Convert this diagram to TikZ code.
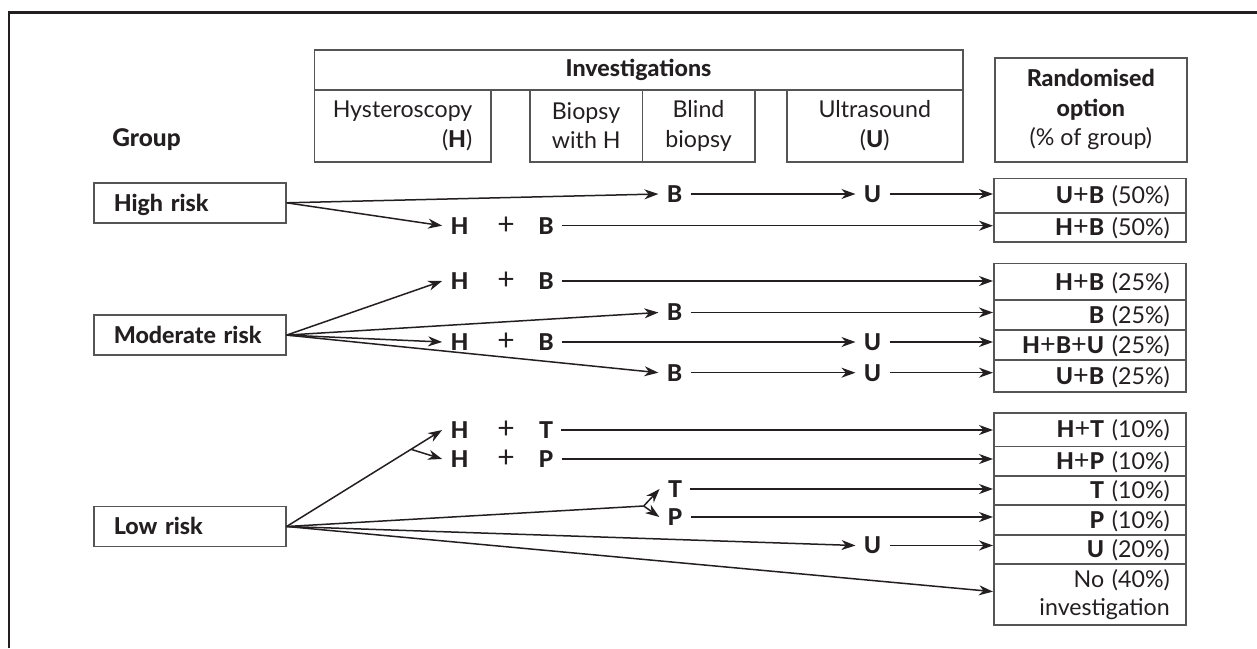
\documentclass[tikz,border=0pt]{standalone}
\usepackage{fontspec}
\setmainfont{Lato}[BoldFont={Lato Heavy}]
\usetikzlibrary{arrows.meta,calc}
\newcommand\myfs{\fontsize{11.6}{14.8}\selectfont}
\newcommand\pl{{\fontsize{13.5}{14}\selectfont\mdseries +}}
\definecolor{boxgray}{RGB}{85,85,85}
\definecolor{linecol}{RGB}{35,31,32}
\begin{document}
\begin{tikzpicture}[x=0.5pt,y=-0.5pt,
  box/.style={draw=boxgray,line width=0.8pt,inner sep=0pt,text=linecol,font=\myfs},
  hdr/.style={box,anchor=north west},
  grp/.style={box,anchor=north west,minimum height=20pt,text width=76pt,inner xsep=10pt,align=left,font=\myfs\bfseries,text height=8.3pt,text depth=0pt},
  cell/.style={box,anchor=north west,text width=80pt,inner xsep=8pt,inner ysep=0pt,align=right,text height=8.3pt,text depth=0pt},
  ltr/.style={font=\myfs\bfseries,text=linecol,inner xsep=4pt,inner ysep=0pt,text height=8.3pt,text depth=0pt},
  pls/.style={font=\fontsize{15}{15}\selectfont,text=linecol,inner sep=0pt,text height=8.3pt,text depth=0pt},
  arr/.style={-{Stealth[length=7pt,width=5pt,inset=2.2pt]},line width=0.75pt,draw=linecol},
  ln/.style={line width=0.75pt,draw=linecol}]
\useasboundingbox (0,0) rectangle (1257,648);
% outer frame
\draw[line width=1.2pt,linecol] (9,648) -- (9,12.3) -- (1257,12.3);

% header
\node[hdr,minimum width=324.25pt,minimum height=19.85pt,font=\myfs\bfseries] (inv) at (313.5,49.3) {Investigations};
\node[hdr,minimum width=88.25pt,minimum height=36pt,align=right] (colH) at (313.5,89) {Hysteroscopy\\(\textbf{H})};
\node[hdr,minimum width=56.05pt,minimum height=36pt,align=left] (colBH) at (529.4,89) {Biopsy\\with H};
\node[hdr,minimum width=56.25pt,minimum height=36pt,align=center] (colBB) at (641.5,89) {Blind\\biopsy};
\node[hdr,minimum width=88pt,minimum height=36pt,align=center] (colU) at (786,89) {Ultrasound\\(\textbf{U})};
\node[hdr,minimum width=96pt,minimum height=52pt,align=center] (rand) at (994,57) {\textbf{Randomised}\\\textbf{option}\\(\% of group)};
\node[anchor=base west,inner sep=0pt,font=\fontsize{12.2}{14.8}\selectfont\bfseries,text=linecol] (grouplbl) at (112,146.7) {Group};

% group boxes
\node[grp] (hr) at (93,182) {High risk};
\node[grp] (mr) at (93,314.3) {Moderate risk};
\node[grp] (lr) at (93,505.7) {Low risk};

% right cells
\node[cell,minimum height=17.15pt] (c11) at (993,177.7) {\textbf{U}\pl\textbf{B} (50\%)};
\node[cell,minimum height=14.5pt] (c12) at (993,212) {\textbf{H}\pl\textbf{B} (50\%)};

\node[cell,minimum height=18.3pt] (ca) at (993,262.7) {\textbf{H}\pl\textbf{B} (25\%)};
\node[cell,minimum height=14.85pt] (cb) at (993,299.3) {\textbf{B} (25\%)};
\node[cell,minimum height=15.15pt] (cc) at (993,329) {\textbf{H}\pl\textbf{B}\pl\textbf{U} (25\%)};
\node[cell,minimum height=15.85pt] (cd) at (993,359.3) {\textbf{U}\pl\textbf{B} (25\%)};

\node[cell,minimum height=16.85pt] (ce) at (993,412) {\textbf{H}\pl\textbf{T} (10\%)};
\node[cell,minimum height=14.8pt] (cf) at (993,445.7) {\textbf{H}\pl\textbf{P} (10\%)};
\node[cell,minimum height=14.5pt] (cg) at (993,475.3) {\textbf{T} (10\%)};
\node[cell,minimum height=14.85pt] (ch) at (993,504.3) {\textbf{P} (10\%)};
\node[cell,minimum height=14.65pt] (ci) at (993,534) {\textbf{U} (20\%)};
\node[box,anchor=north west,text width=80pt,inner xsep=8pt,inner ysep=0pt,align=right,minimum height=30.5pt,font=\fontsize{11.6}{13.7}\selectfont] (cj) at (993,563.3) {No (40\%)\\investigation};

% letters: high risk
\node[ltr] (r1B) at (674.5,194) {B};
\node[ltr] (r1U) at (872.5,194) {U};
\node[ltr] (r2H) at (459.5,225.7) {H};
\node[pls] (r2p) at (506,225.7) {+};
\node[ltr] (r2B) at (546,225.7) {B};

% letters: moderate risk
\node[ltr] (aH) at (459.5,281) {H};
\node[pls] (ap) at (506,281) {+};
\node[ltr] (aB) at (546,281) {B};
\node[ltr] (bB) at (674.5,312.5) {B};
\node[ltr] (cH) at (459.5,342) {H};
\node[pls] (cp) at (506,342) {+};
\node[ltr] (cB) at (546,342) {B};
\node[ltr] (cU) at (872.5,342) {U};
\node[ltr] (dB) at (674.5,372.7) {B};
\node[ltr] (dU) at (872.5,372.7) {U};

% letters: low risk
\node[ltr] (eH) at (459.5,430) {H};
\node[pls] (ep) at (506,430) {+};
\node[ltr] (eT) at (546,430) {T};
\node[ltr] (fH) at (459.5,459) {H};
\node[pls] (fp) at (506,459) {+};
\node[ltr] (fP) at (546,459) {P};
\node[ltr] (gT) at (675,489) {T};
\node[ltr] (hP) at (675,517) {P};
\node[ltr] (iU) at (872.5,545.5) {U};

% connectors: high risk
\draw[arr] (hr.east) -- (r1B.west);
\draw[arr] (r1B.east) -- (r1U.west);
\draw[arr] (r1U.east) -- (r1U.east -| c11.west);
\draw[arr] (hr.east) -- (r2H.west);
\draw[arr] (r2B.east) -- (r2B.east -| c12.west);

% connectors: moderate risk
\draw[arr] (mr.east) -- (aH.west);
\draw[arr] (aB.east) -- (aB.east -| ca.west);
\draw[arr] (mr.east) -- (bB.west);
\draw[arr] (bB.east) -- (bB.east -| cb.west);
\draw[arr] (mr.east) -- (cH.west);
\draw[arr] (cB.east) -- (cU.west);
\draw[arr] (cU.east) -- (cU.east -| cc.west);
\draw[arr] (mr.east) -- (dB.west);
\draw[arr] (dB.east) -- (dU.west);
\draw[arr] (dU.east) -- (dU.east -| cd.west);

% connectors: low risk
\coordinate (lf1) at ($(lr.east)!0.8!(eH.west)$);
\coordinate (lf2) at (643.7,506);
\draw[arr] (lr.east) -- (eH.west);
\draw[arr] (lf1) -- (fH.west);
\draw[arr] (eT.east) -- (eT.east -| ce.west);
\draw[arr] (fP.east) -- (fP.east -| cf.west);
\draw[ln] (lr.east) -- (lf2);
\draw[arr] (lf2) -- (gT.west);
\draw[arr] (lf2) -- (hP.west);
\draw[arr] (gT.east) -- (gT.east -| cg.west);
\draw[arr] (hP.east) -- (hP.east -| ch.west);
\draw[arr] (lr.east) -- (iU.west);
\draw[arr] (iU.east) -- (iU.east -| ci.west);
\draw[arr] (lr.east) -- ($(cj.west)+(0,-3)$);
\end{tikzpicture}
\end{document}
